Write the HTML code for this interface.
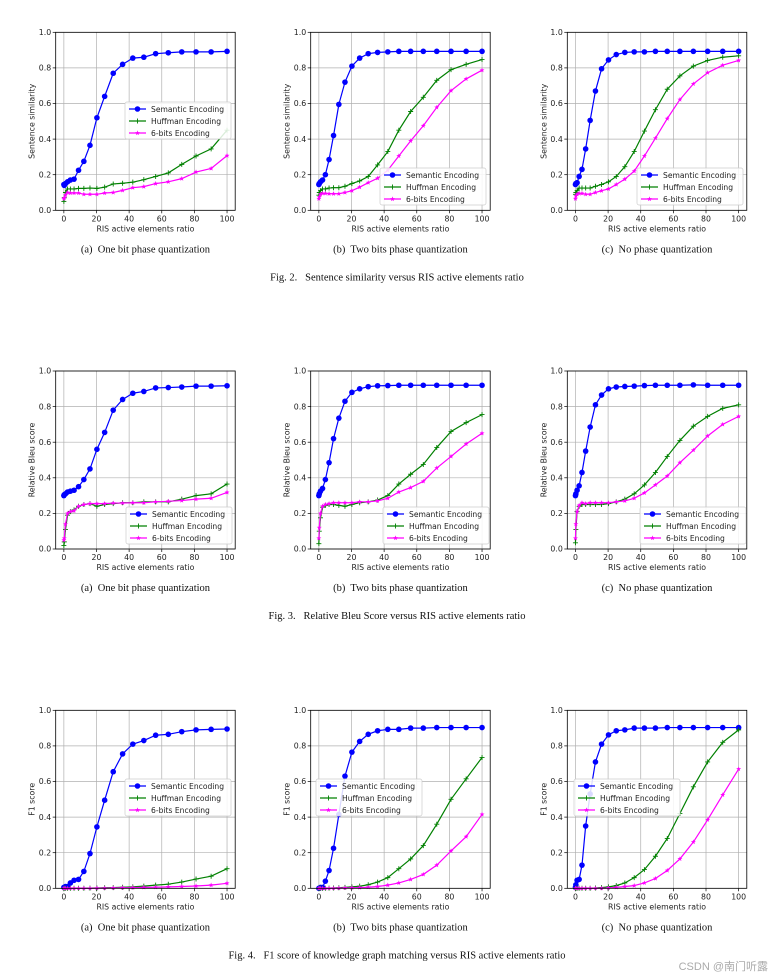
<!DOCTYPE html>
<html><head><meta charset="utf-8"><style>
html,body{margin:0;padding:0;background:#fff;}
svg{display:block;}
.t{font-family:"DejaVu Sans","Liberation Sans",sans-serif;font-size:7.8px;fill:#222;}
.cap{font-family:"Liberation Serif",serif;font-size:10.5px;fill:#111;white-space:pre;}
.leg{font-family:"DejaVu Sans","Liberation Sans",sans-serif;font-size:7.6px;fill:#222;}
</style></head><body>
<svg id="fig" width="776" height="980" viewBox="0 0 776 980" xmlns="http://www.w3.org/2000/svg"></svg>
<script>
const xValues=[0,0.25,1,2.25,4,6.25,9,12.25,16,20.25,25,30.25,36,42.25,49,56.25,64,72.25,81,90.25,100];
const xTicks=[0,20,40,60,80,100];
const yTicks=[0,0.2,0.4,0.6,0.8,1.0];
const seriesNames=["Semantic Encoding","Huffman Encoding","6-bits Encoding"];
// Fig 2 sentence similarity
const sim1Sem=[0.145,0.14,0.15,0.16,0.17,0.175,0.225,0.275,0.365,0.52,0.64,0.77,0.82,0.855,0.86,0.88,0.885,0.89,0.89,0.89,0.893];
const sim1Huf=[0.05,0.07,0.1,0.12,0.12,0.12,0.123,0.123,0.125,0.123,0.13,0.148,0.152,0.158,0.172,0.19,0.21,0.258,0.305,0.345,0.45];
const sim1Six=[0.065,0.07,0.085,0.1,0.097,0.097,0.097,0.09,0.09,0.09,0.097,0.1,0.112,0.127,0.133,0.15,0.16,0.178,0.215,0.235,0.307];
const sim2Sem=[0.145,0.15,0.16,0.17,0.2,0.285,0.42,0.595,0.72,0.81,0.855,0.88,0.887,0.89,0.893,0.893,0.893,0.893,0.893,0.893,0.893];
const sim2Huf=[0.085,0.1,0.11,0.12,0.12,0.125,0.127,0.127,0.135,0.15,0.165,0.19,0.255,0.33,0.45,0.555,0.635,0.73,0.79,0.82,0.847];
const sim2Six=[0.065,0.075,0.09,0.095,0.095,0.093,0.093,0.093,0.1,0.11,0.13,0.155,0.18,0.225,0.305,0.39,0.475,0.578,0.672,0.738,0.787];
const sim3Sem=[0.145,0.15,0.155,0.19,0.23,0.345,0.505,0.67,0.795,0.845,0.875,0.887,0.89,0.89,0.893,0.893,0.893,0.893,0.893,0.893,0.893];
const sim3Huf=[0.09,0.1,0.11,0.125,0.125,0.125,0.125,0.135,0.145,0.16,0.19,0.245,0.33,0.445,0.565,0.68,0.755,0.81,0.842,0.86,0.868];
const sim3Six=[0.065,0.08,0.09,0.095,0.095,0.09,0.09,0.1,0.11,0.12,0.145,0.175,0.22,0.305,0.405,0.515,0.622,0.71,0.773,0.815,0.842];
// Fig 3 relative bleu
const bleu1Sem=[0.3,0.305,0.31,0.32,0.325,0.33,0.35,0.39,0.45,0.56,0.655,0.78,0.84,0.875,0.885,0.905,0.907,0.91,0.915,0.915,0.917];
const bleu1Huf=[0.02,0.04,0.11,0.19,0.21,0.22,0.24,0.25,0.255,0.24,0.25,0.255,0.26,0.26,0.265,0.265,0.265,0.28,0.3,0.31,0.365];
const bleu1Six=[0.05,0.06,0.14,0.2,0.21,0.215,0.24,0.25,0.255,0.255,0.255,0.258,0.258,0.26,0.26,0.265,0.268,0.272,0.28,0.285,0.318];
const bleu2Sem=[0.3,0.31,0.325,0.34,0.39,0.485,0.62,0.735,0.83,0.88,0.9,0.912,0.917,0.918,0.92,0.92,0.92,0.92,0.92,0.92,0.92];
const bleu2Huf=[0.03,0.1,0.175,0.235,0.245,0.25,0.25,0.245,0.24,0.25,0.26,0.265,0.275,0.3,0.365,0.42,0.475,0.57,0.66,0.71,0.755];
const bleu2Six=[0.06,0.12,0.2,0.24,0.25,0.255,0.26,0.26,0.26,0.26,0.265,0.265,0.27,0.285,0.32,0.345,0.38,0.455,0.52,0.59,0.65];
const bleu3Sem=[0.3,0.31,0.33,0.355,0.43,0.55,0.685,0.81,0.865,0.9,0.91,0.913,0.915,0.918,0.92,0.92,0.92,0.922,0.92,0.92,0.92];
const bleu3Huf=[0.035,0.11,0.21,0.24,0.25,0.25,0.25,0.25,0.25,0.255,0.265,0.28,0.31,0.36,0.43,0.52,0.61,0.69,0.745,0.79,0.81];
const bleu3Six=[0.06,0.14,0.21,0.245,0.26,0.255,0.26,0.26,0.26,0.26,0.265,0.27,0.285,0.315,0.36,0.41,0.485,0.555,0.635,0.7,0.745];
// Fig 4 F1 score
const f11Sem=[0.005,0.005,0.01,0.01,0.03,0.045,0.05,0.095,0.195,0.345,0.495,0.655,0.755,0.81,0.83,0.86,0.865,0.88,0.89,0.893,0.895];
const f11Huf=[0,0,0,0,0,0,0,0,0.001,0.002,0.003,0.004,0.006,0.008,0.012,0.018,0.023,0.035,0.052,0.068,0.11];
const f11Six=[0,0,0,0,0,0,0,0,0,0.001,0.001,0.002,0.003,0.004,0.005,0.006,0.008,0.01,0.013,0.018,0.028];
const f12Sem=[0,0,0.005,0.005,0.04,0.1,0.225,0.415,0.63,0.765,0.825,0.865,0.885,0.893,0.893,0.9,0.9,0.903,0.903,0.903,0.903];
const f12Huf=[0,0,0,0,0,0.001,0.002,0.003,0.005,0.008,0.012,0.02,0.035,0.06,0.11,0.165,0.24,0.36,0.5,0.615,0.735];
const f12Six=[0,0,0,0,0,0,0,0.001,0.002,0.003,0.004,0.006,0.01,0.018,0.03,0.05,0.078,0.13,0.21,0.29,0.415];
const f13Sem=[0.005,0.02,0.045,0.05,0.13,0.35,0.53,0.71,0.81,0.862,0.885,0.89,0.9,0.9,0.9,0.903,0.903,0.903,0.903,0.903,0.903];
const f13Huf=[0,0,0,0,0,0,0,0.002,0.004,0.008,0.015,0.03,0.06,0.105,0.18,0.28,0.42,0.57,0.71,0.82,0.89];
const f13Six=[0,0,0,0,0,0,0,0,0,0.002,0.005,0.01,0.015,0.03,0.055,0.1,0.165,0.26,0.385,0.525,0.67];

const NS="http://www.w3.org/2000/svg";
const svg=document.getElementById('fig');
function mk(tag,attrs,parent){const e=document.createElementNS(NS,tag);for(const k in attrs)e.setAttribute(k,attrs[k]);(parent||svg).appendChild(e);return e;}

const colLeft=[55.7,310.7,567.3];
const rowTop=[32.3,371,710.3];
const AW=179.5, AH=178;
const colors=["#0000ff","#008000","#ff00ff"];
const subcaps=["(a)  One bit phase quantization","(b)  Two bits phase quantization","(c)  No phase quantization"];
const rows=[
 {ylabel:"Sentence similarity",fig:"Fig. 2.   Sentence similarity versus RIS active elements ratio",data:[[sim1Sem,sim1Huf,sim1Six],[sim2Sem,sim2Huf,sim2Six],[sim3Sem,sim3Huf,sim3Six]],leg:[[125,102],[380,168],[637,168]]},
 {ylabel:"Relative Bleu score",fig:"Fig. 3.   Relative Bleu Score versus RIS active elements ratio",data:[[bleu1Sem,bleu1Huf,bleu1Six],[bleu2Sem,bleu2Huf,bleu2Six],[bleu3Sem,bleu3Huf,bleu3Six]],leg:[[126,507],[383,507],[640,507]]},
 {ylabel:"F1 score",fig:"Fig. 4.   F1 score of knowledge graph matching versus RIS active elements ratio",data:[[f11Sem,f11Huf,f11Six],[f12Sem,f12Huf,f12Six],[f13Sem,f13Huf,f13Six]],leg:[[125,779],[316,779],[574,779]]}
];

function marker(g,kind,x,y,c){
  if(kind===0){mk('circle',{cx:x,cy:y,r:2.8,fill:c},g);}
  else if(kind===1){mk('path',{d:`M${x-2.5},${y}H${x+2.5}M${x},${y-2.5}V${y+2.5}`,stroke:c,'stroke-width':0.9,fill:'none'},g);}
  else {let p=[];for(let i=0;i<10;i++){const r=i%2?1.1:2.6;const a=-Math.PI/2+i*Math.PI/5;p.push((x+r*Math.cos(a)).toFixed(2)+','+(y+r*Math.sin(a)).toFixed(2));}
    mk('polygon',{points:p.join(' '),fill:c},g);}
}

rows.forEach((row,ri)=>{
  const top=rowTop[ri];
  row.data.forEach((series,ci)=>{
    const left=colLeft[ci];
    const X=v=>left+(v+5)/110*AW;
    const Y=v=>top+(1-v)*AH;
    const g=mk('g',{});
    
    
    xTicks.forEach(t=>{mk('line',{x1:X(t),x2:X(t),y1:top,y2:top+AH,stroke:'#b0b0b0','stroke-width':0.7},g);
      mk('line',{x1:X(t),x2:X(t),y1:top+AH,y2:top+AH+3,stroke:'#000','stroke-width':0.7},g);
      const tx=mk('text',{x:X(t),y:top+AH+11,'text-anchor':'middle',class:'t'},g);tx.textContent=t;
      
      });
    yTicks.forEach(t=>{mk('line',{x1:left,x2:left+AW,y1:Y(t),y2:Y(t),stroke:'#b0b0b0','stroke-width':0.7},g);
      mk('line',{x1:left-3,x2:left,y1:Y(t),y2:Y(t),stroke:'#000','stroke-width':0.7},g);
      const tx=mk('text',{x:left-4.5,y:Y(t)+2.7,'text-anchor':'end',class:'t'},g);tx.textContent=t.toFixed(1);
      
      });
    series.forEach((vals,si)=>{
      const sg=mk('g',{},g);
      
      
      const pts=vals.map((v,i)=>X(xValues[i]).toFixed(2)+','+Y(v).toFixed(2)).join(' ');
      mk('polyline',{points:pts,fill:'none',stroke:colors[si],'stroke-width':1.2},sg);
      vals.forEach((v,i)=>marker(sg,si,X(xValues[i]),Y(v),colors[si]));
    });
    mk('rect',{x:left,y:top,width:AW,height:AH,fill:'none',stroke:'#000','stroke-width':0.8},g);
    const [lx,ly]=row.leg[ci];
    const lg=mk('g',{},g);
    
    
    mk('rect',{x:lx,y:ly,width:106,height:37,rx:2,fill:'#fff','fill-opacity':0.85,stroke:'#ccc','stroke-width':0.7},lg);
    seriesNames.forEach((n,si)=>{
      const yy=ly+7+si*12;
      mk('line',{x1:lx+4,x2:lx+21,y1:yy,y2:yy,stroke:colors[si],'stroke-width':1.2},lg);
      marker(lg,si,lx+12.5,yy,colors[si]);
      const tx=mk('text',{x:lx+26,y:yy+2.8,class:'leg'},lg);tx.textContent=n;
      
      
    });
    const xl=mk('text',{x:left+AW/2,y:top+AH+21,'text-anchor':'middle',class:'t'},g);xl.textContent='RIS active elements ratio';
    
    
    const yl=mk('text',{x:0,y:0,'text-anchor':'middle',class:'t',transform:`translate(${left-21},${top+AH/2}) rotate(-90)`},g);yl.textContent=row.ylabel;
    
    
    const sc=mk('text',{x:left+AW/2,y:top+AH+42,'text-anchor':'middle',class:'cap'},g);sc.textContent=subcaps[ci];
    
    
  });
  const fc=mk('text',{x:397,y:top+248,'text-anchor':'middle',class:'cap','font-size':'10px'});fc.textContent=row.fig;
  
  
});
const wm=mk('text',{x:768,y:970,'text-anchor':'end','font-family':'"Liberation Sans","Noto Sans CJK SC",sans-serif','font-size':'11px',fill:'#aaa'});
wm.textContent='CSDN @南门听露';


</script>
</body></html>
